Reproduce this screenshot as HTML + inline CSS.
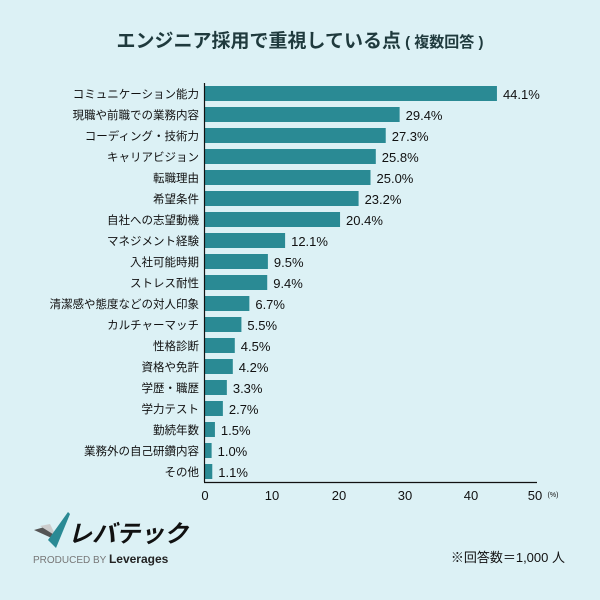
<!DOCTYPE html>
<html><head><meta charset="utf-8"><style>
body{margin:0;width:600px;height:600px;background:#dcf1f5;font-family:"Liberation Sans","Noto Sans CJK JP",sans-serif;overflow:hidden}
svg{display:block}
</style></head><body>
<svg width="600" height="600" xmlns="http://www.w3.org/2000/svg" font-family="Liberation Sans, Noto Sans CJK JP, sans-serif">
<text x="300" y="47" text-anchor="middle" font-size="19" font-weight="bold" fill="#1f3a3d">エンジニア採用で重視している点<tspan font-size="15"> ( 複数回答 )</tspan></text>
<g id="bars" font-size="12" fill="#111"></g>
<line x1="204.5" y1="83" x2="204.5" y2="482" stroke="#111" stroke-width="1.2"/>
<line x1="204" y1="482.5" x2="537" y2="482.5" stroke="#111" stroke-width="1.2"/>
<g font-size="13" text-anchor="middle" fill="#111">
<text x="205" y="500">0</text><text x="272" y="500">10</text><text x="339" y="500">20</text><text x="405" y="500">30</text><text x="471" y="500">40</text><text x="535" y="500">50</text><text x="553" y="497" font-size="7">(%)</text>
</g>
<g>
<polygon points="34,530 48,526 56,540" fill="#555"/>
<polygon points="40,526 50,524 56,536" fill="#ccc"/>
<polygon points="48,540 68,512 70,514 56,548" fill="#2a8a94"/>
<text x="68" y="542" font-size="24" font-weight="bold" fill="#111" font-style="italic">レバテック</text>
<text x="33" y="563" font-size="10" fill="#777">PRODUCED BY <tspan font-size="12" fill="#222" font-weight="bold">Leverages</tspan></text>
</g>
<text x="565" y="562" text-anchor="end" font-size="13" fill="#111">※回答数＝1,000 人</text>
</svg>
<script>
var d=[["コミュニケーション能力",44.1],["現職や前職での業務内容",29.4],["コーディング・技術力",27.3],["キャリアビジョン",25.8],["転職理由",25.0],["希望条件",23.2],["自社への志望動機",20.4],["マネジメント経験",12.1],["入社可能時期",9.5],["ストレス耐性",9.4],["清潔感や態度などの対人印象",6.7],["カルチャーマッチ",5.5],["性格診断",4.5],["資格や免許",4.2],["学歴・職歴",3.3],["学力テスト",2.7],["勤続年数",1.5],["業務外の自己研鑽内容",1.0],["その他",1.1]];
var g=document.getElementById("bars"),ns="http://www.w3.org/2000/svg",h="";
d.forEach(function(r,i){var y=86+i*21,w=r[1]*6.62;
h+='<rect x="205" y="'+y+'" width="'+w+'" height="15" fill="#2a8a94"/>';
h+='<text x="199" y="'+(y+12)+'" text-anchor="end" font-size="11.5">'+r[0]+'</text>';
h+='<text x="'+(211+w)+'" y="'+(y+13)+'" font-size="13">'+r[1].toFixed(1)+'%</text>';});
g.innerHTML=h;
</script>
</body></html>
